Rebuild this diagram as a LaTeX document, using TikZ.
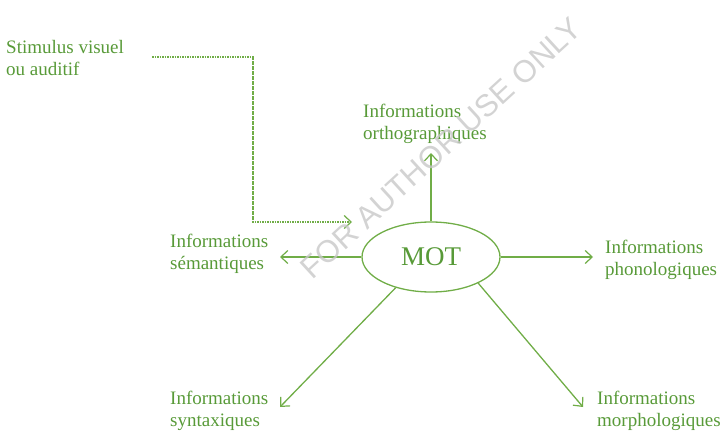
\documentclass[tikz,border=0pt]{standalone}
\usepackage{fontspec}
\setmainfont{Liberation Serif}
\newfontfamily\markfont{Liberation Sans}
\usetikzlibrary{arrows.meta,shapes.geometric}
\definecolor{linegreen}{RGB}{112,173,71}
\definecolor{textgreen}{RGB}{88,154,56}
\definecolor{markgray}{RGB}{200,200,200}
\begin{document}
\begin{tikzpicture}[x=1pt,y=-1pt,
  label/.style={anchor=north west,align=left,inner sep=0pt,text=textgreen,
    font=\fontsize{19}{22}\selectfont},
  link/.style={draw=linegreen,line width=1.3pt,-{Straight Barb[length=7pt,width=13pt,line width=1.2pt]}},
  cue/.style={draw=linegreen,line width=1.2pt,dash pattern=on 1.6pt off 0.9pt,
    -{Straight Barb[length=7pt,width=13pt,line width=1.2pt]}},
  hub/.style={ellipse,draw=linegreen,line width=1.3pt,minimum width=138pt,minimum height=70pt,
    inner sep=0pt,text=textgreen,font=\fontsize{27}{30}\selectfont},
  stamp/.style={text=markgray,font=\markfont\fontsize{31}{31}\selectfont,rotate=42.5,inner sep=0pt}]
  \path[use as bounding box] (0,0) rectangle (723,433);

  % central word
  \node[hub] (mot) at (431,257) {MOT};

  % information sources
  \node[label] (stim)  at (6,40)    {Stimulus visuel\\ou auditif};
  \node[label] (ortho) at (363,104) {Informations\\orthographiques};
  \node[label] (seman) at (170,234) {Informations\\sémantiques};
  \node[label] (phono) at (605,240) {Informations\\phonologiques};
  \node[label] (synt)  at (170,391) {Informations\\syntaxiques};
  \node[label] (morph) at (597,391) {Informations\\morphologiques};

  % arrow tips
  \coordinate (tOrtho) at (431,153);
  \coordinate (tSeman) at (280,257);
  \coordinate (tPhono) at (593,257);
  \coordinate (tSynt)  at (280,407);
  \coordinate (tMorph) at (583,407);
  \coordinate (cueA) at (152,57);
  \coordinate (cueB) at (253,57);
  \coordinate (cueC) at (253,222);
  \coordinate (cueD) at (352,222);

  \draw[link] (mot) -- (tOrtho);
  \draw[link] (mot) -- (tSeman);
  \draw[link] (mot) -- (tPhono);
  \draw[link] (mot.-139) -- (tSynt);
  \draw[link] (mot.-29) -- (tMorph);

  % stimulus input
  \draw[cue] (cueA) -- (cueB) -- (cueC) -- (cueD);

  % diagonal stamp
  \node[stamp,opacity=0.8] (stampmark) at (441,148) {FOR AUTHOR USE ONLY};
\end{tikzpicture}
\end{document}
